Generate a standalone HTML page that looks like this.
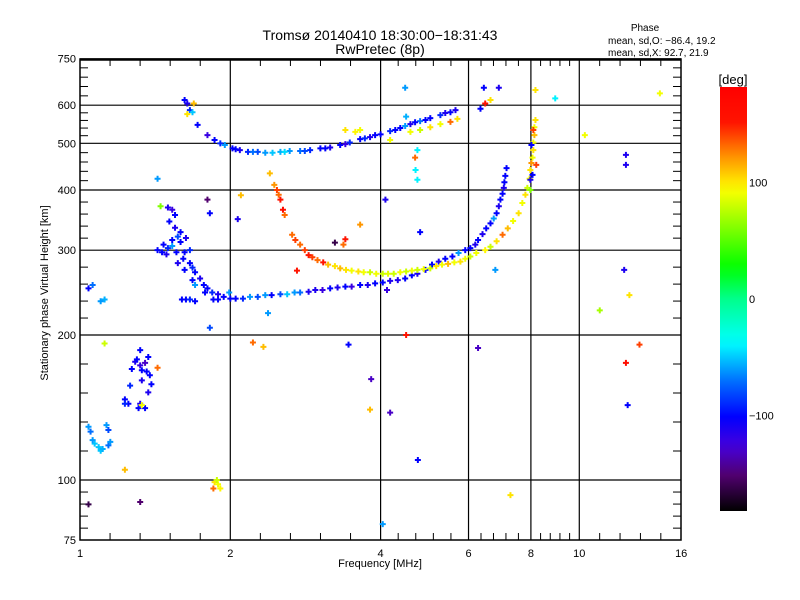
<!DOCTYPE html>
<html><head><meta charset="utf-8"><style>
html,body{margin:0;padding:0;background:#fff;width:800px;height:600px;overflow:hidden}
svg text{font-family:"Liberation Sans",sans-serif;fill:#000}
</style></head><body>
<svg id="chart" width="800" height="600" xmlns="http://www.w3.org/2000/svg">
<defs><linearGradient id="cbg" x1="0" y1="1" x2="0" y2="0"></linearGradient></defs>
<g id="grid"></g>
<g id="ticks"></g>
<g id="marks"></g>
<rect x="80" y="59" width="601" height="481" fill="none" stroke="#000" stroke-width="1.5"/>
<line x1="80" y1="59.5" x2="681" y2="59.5" stroke="#000" stroke-width="2.5"/>
<text x="380" y="40" font-size="14" text-anchor="middle">Tromsø 20140410 18:30:00−18:31:43</text>
<text x="380" y="54" font-size="14" text-anchor="middle">RwPretec (8p)</text>
<text x="645" y="31" font-size="10" text-anchor="middle">Phase</text>
<text x="608" y="44" font-size="10">mean, sd,O: −86.4, 19.2</text>
<text x="608" y="56" font-size="10">mean, sd,X:  92.7, 21.9</text>
<text x="380" y="567" font-size="11" text-anchor="middle">Frequency [MHz]</text>
<text x="0" y="0" font-size="11" text-anchor="middle" transform="translate(48,293) rotate(-90)">Stationary phase Virtual Height [km]</text>
<g id="cbar">
<rect x="720" y="87" width="27" height="424" fill="url(#cbg)"/>
<text x="733" y="84" font-size="13" text-anchor="middle">[deg]</text>
</g>
</svg>
<script>
const freqs = [1.62,1.64,1.66,1.68,1.69,1.64,1.72,1.80,1.86,1.91,1.95,2.02,2.09,2.17,2.27,2.35,2.43,2.52,2.63,2.76,2.89,3.03,3.17,3.32,3.47,3.64,3.81,4.0,4.18,4.38,4.59,4.80,5.03,5.27,5.52,5.65,
2.05,2.22,2.57,2.82,3.10,3.40,3.72,3.90,4.28,4.48,4.69,4.92,5.39,
3.40,3.56,3.64,4.59,4.80,5.03,5.27,5.52,5.70,6.48,6.64,6.34,
1.50,1.53,1.55,1.51,1.55,1.59,1.57,1.53,1.59,1.63,1.47,1.50,1.46,1.49,1.43,1.53,1.56,1.62,1.66,1.61,1.57,1.66,1.68,1.62,1.70,1.74,1.68,1.70,1.77,1.80,1.84,1.78,1.89,1.94,2.0,1.99,2.05,2.12,2.19,2.27,2.35,2.42,2.52,2.60,2.69,2.76,2.87,2.96,3.06,3.17,3.28,3.40,3.50,3.64,3.77,3.90,4.04,4.18,4.33,4.48,4.62,4.74,4.92,5.07,5.23,5.39,5.57,5.73,5.91,
1.60,1.63,1.66,1.70,1.85,1.89,
6.05,6.19,6.27,6.40,6.51,6.64,6.74,6.83,6.90,6.95,7.02,7.06,7.08,7.11,7.15,
2.40,2.45,2.48,2.50,2.52,2.55,2.57,2.66,2.70,2.76,2.82,2.87,2.92,2.99,3.07,3.14,3.24,3.32,3.41,3.50,3.61,3.70,3.81,3.92,4.04,4.14,4.25,4.38,4.50,4.62,4.74,4.88,5.03,5.17,5.31,5.46,5.62,5.78,5.91,6.05,6.22,6.48,6.64,6.83,7.02,7.19,7.37,7.56,7.69,7.80,7.87,7.95,7.98,8.02,8.06,8.09,8.09,8.13,8.13,8.17,
7.98,8.06,8.2,8.02,8.09,7.98,
1.29,1.32,1.33,1.36,1.33,1.38,1.39,1.37,1.26,1.23,1.32,1.25,1.31,1.23,1.35,1.27,1.30,1.35,1.37,1.32,
1.09,1.10,1.11,1.07,1.06,1.14,1.15,1.04,1.05,1.13,1.14,
1.04,1.06,1.12,1.10,
4.48,6.44,6.90,8.17,8.95,14.5,10.26,12.4,12.4,12.3,12.6,10.99,13.2,12.4,12.5,7.28,4.75,4.18,3.83,3.45,3.81,3.37,3.64,2.10,2.38,1.43,1.32,1.04,1.23,1.12,1.33,1.86,1.89,1.91,1.85,1.88,4.04,4.12,2.72,3.24,3.40,4.50,4.09,4.80,4.69,4.74,4.70,4.74,6.79,6.27,1.82,2.22,2.33,1.45,1.80,1.43,1.82,2.07,4.50,4.18];
const heights = [615,605,586,580,605,575,546,520,508,500,496,488,484,480,480,478,478,480,482,482,484,488,490,496,502,510,515,522,530,538,548,556,564,572,580,586,
486,480,480,482,488,498,512,520,533,543,553,559,578,
533,528,533,528,533,540,548,554,562,605,615,590,
368,364,355,344,334,327,320,315,312,318,308,303,297,294,300,306,297,297,300,288,282,282,276,273,270,262,260,254,254,250,245,245,243,240,238,245,238,238,240,240,242,242,243,243,245,245,246,248,248,250,251,252,252,254,254,256,257,259,260,262,266,268,273,280,284,288,291,296,300,
237,237,237,235,237,237,
303,308,315,324,333,341,349,358,370,382,393,404,415,428,444,
433,410,400,391,382,364,355,323,315,308,300,293,290,286,283,280,278,275,273,272,271,270,270,268,268,268,268,270,271,272,273,274,275,278,280,281,283,284,288,291,296,300,305,313,323,333,345,358,376,391,404,422,440,455,467,484,502,520,540,559,
420,430,451,496,533,400,
176,173,169,168,161,165,158,152,157,147,144,144,141,144,141,170,178,175,180,186,
117,115,116,119,121,118,120,129,126,130,127,
250,254,237,235,
652,652,652,645,620,635,520,473,451,273,242,225,191,175,143,93,110,138,162,191,140,308,339,390,222,171,90,89,105,192,143,99,98,96,96,100,81,248,272,311,316,200,382,327,467,420,440,484,273,188,207,193,189,370,382,422,358,348,568,508];
const phases = [-100,-110,-90,-50,110,100,-100,-120,-100,-90,-60,-100,-110,-90,-80,-60,-50,-55,-60,-70,-90,-100,-110,-100,-90,-100,-110,-100,-90,-100,-110,-70,-100,-90,-100,-110,
-100,-70,-45,-80,-100,-120,-90,-100,-100,-60,-100,-100,-110,
100,95,90,90,80,100,90,130,100,150,100,-100,
-110,-120,-100,-100,-110,-100,-80,-100,-100,-110,-100,-90,-100,-110,-100,-60,-100,-100,-90,-100,-110,-100,-90,-100,-100,-110,-100,-60,-100,-100,-90,-100,-110,-100,-100,-60,-100,-90,-60,-80,-60,-100,-80,-50,-60,-70,-110,-110,-120,-100,-110,-100,-120,-100,-110,-100,-100,-110,-110,-100,-100,-110,-100,-100,-110,-100,-100,-60,-100,
-100,-100,-90,-100,-100,-100,
-100,-110,-100,-110,-100,-100,-60,-100,-110,-100,-100,-110,-100,-100,-100,
110,120,140,130,150,160,130,130,140,130,140,150,140,130,150,110,100,110,100,90,100,90,80,90,80,85,80,90,80,90,80,90,80,100,90,110,90,100,90,80,90,95,80,100,130,110,90,100,90,100,80,90,100,120,90,100,90,110,90,100,
-110,-100,140,-100,140,60,
-110,-120,-100,-100,-110,-100,-100,-110,-90,-100,-110,-100,-100,-90,-100,-100,-100,-130,-100,-100,
-50,-50,-55,-50,-60,-70,-60,-60,-70,-60,-80,
-100,-70,-55,-60,
-60,-100,-110,100,-40,90,90,-110,-110,-110,100,70,140,160,-100,100,-100,-130,-130,-100,110,130,120,110,-60,130,-150,-160,110,80,90,100,90,95,130,80,-60,-120,150,-160,150,150,-110,-100,130,-40,-40,-40,-60,-130,-80,130,110,60,-150,-60,-100,-110,-55,90];
const xMajor = [1,2,4,6,8,10,16];
const yMajor = [75,100,200,300,400,500,600,750];
const cbLabels = [100,0,-100];

const NS="http://www.w3.org/2000/svg";
function xs(f){return 80+150.3*Math.log2(f);}
function ys(h){return 480-145*Math.log2(h/100);}
function cbY(p){return 299-116.5*p/100;}
const stops=[[-180,[0,0,0]],[-150,[80,0,110]],[-125,[70,0,220]],[-100,[0,0,255]],[-70,[0,110,255]],[-37,[0,255,255]],[0,[0,255,140]],[27,[0,255,0]],[93,[255,255,0]],[120,[255,150,0]],[150,[255,20,0]],[180,[255,0,0]]];
function col(p){
  for(let i=0;i<stops.length-1;i++){const a=stops[i],b=stops[i+1];
    if(p<=b[0]){const t=Math.max(0,(p-a[0])/(b[0]-a[0]));
      return 'rgb('+a[1].map((v,k)=>Math.round(v+(b[1][k]-v)*t)).join(',')+')';}}
  return 'rgb(255,0,0)';
}
function mk(tag,attrs,parent){const e=document.createElementNS(NS,tag);for(const k in attrs)e.setAttribute(k,attrs[k]);parent.appendChild(e);return e;}
const grid=document.getElementById('grid'),ticks=document.getElementById('ticks'),marks=document.getElementById('marks');
xMajor.forEach((f,i)=>{
  const x=xs(f);
  if(i>0&&i<xMajor.length-1){const l=mk('line',{x1:x,y1:59,x2:x,y2:540,stroke:'#000','stroke-width':1.2},grid);
    
    }
  const t=mk('text',{x:x,y:557,'font-size':11,'text-anchor':'middle'},ticks);t.textContent=f;
  
  
  if(i<xMajor.length-1){const x2=xs(xMajor[i+1]);
    for(let k=1;k<5;k++){const xx=x+(x2-x)*k/5;
      const a=mk('line',{x1:xx,y1:540,x2:xx,y2:533,stroke:'#000'},ticks);
      
      
      const b=mk('line',{x1:xx,y1:59,x2:xx,y2:66,stroke:'#000'},ticks);
      
      }}
});
yMajor.forEach((h,i)=>{
  const y=ys(h);
  if(i>0&&i<yMajor.length-1){const l=mk('line',{x1:80,y1:y,x2:681,y2:y,stroke:'#000','stroke-width':1.2},grid);
    
    }
  const t=mk('text',{x:76,y:y+4,'font-size':11,'text-anchor':'end'},ticks);t.textContent=h;
  
  
  if(i<yMajor.length-1){const y2=ys(yMajor[i+1]);
    for(let k=1;k<5;k++){const yy=y+(y2-y)*k/5;
      const a=mk('line',{x1:80,y1:yy,x2:88,y2:yy,stroke:'#000'},ticks);
      
      
      const b=mk('line',{x1:681,y1:yy,x2:673,y2:yy,stroke:'#000'},ticks);
      
      }}
});
for(let i=0;i<freqs.length;i++){
  const x=xs(freqs[i]),y=ys(heights[i]);
  const p=mk('path',{d:'M'+(x-3)+' '+y+'h6M'+x+' '+(y-3)+'v6',stroke:col(phases[i]),'stroke-width':2},marks);
  
  
}
const g=document.getElementById('cbg');
for(let p=-180;p<=180;p+=10){mk('stop',{offset:((p+180)/360),'stop-color':col(p)},g);}
const cb=document.getElementById('cbar');
cbLabels.forEach(v=>{const t=mk('text',{x:749,y:cbY(v)+4,'font-size':11},cb);t.textContent=v===-100?'−100':v;
  
  });
</script>
</body></html>
